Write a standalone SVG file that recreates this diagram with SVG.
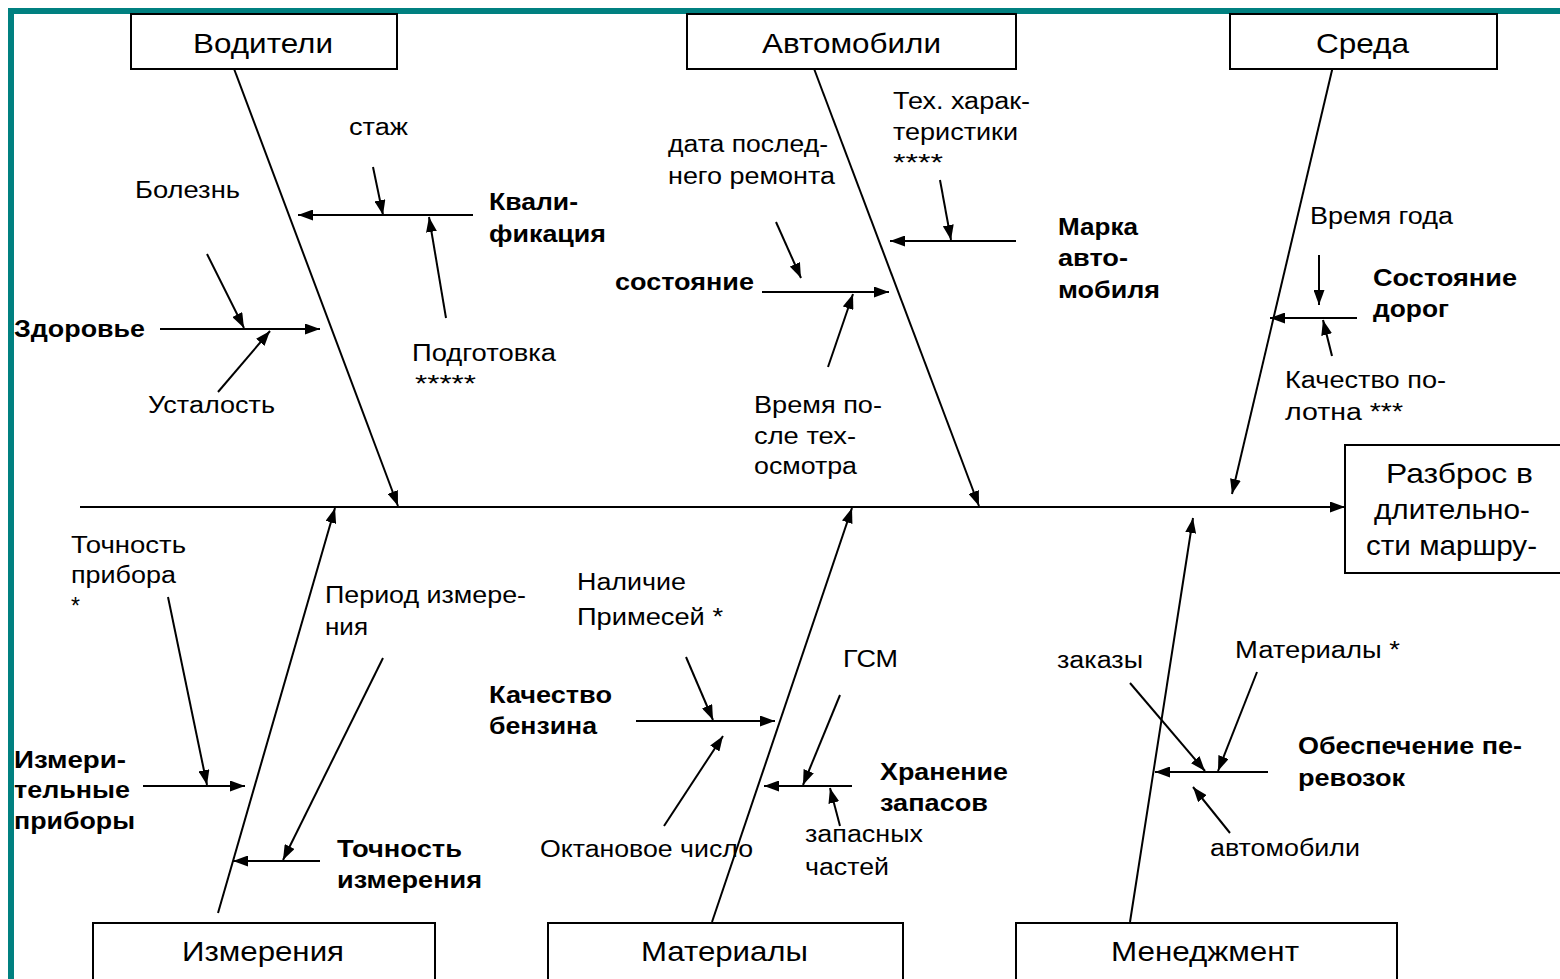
<svg xmlns="http://www.w3.org/2000/svg" width="1560" height="979" viewBox="0 0 1560 979">
<style>
  .bg{fill:#ffffff}
  .frame{fill:#008080}
  .box{fill:#ffffff;stroke:#000;stroke-width:2}
  .t{font-family:"Liberation Sans",Arial,sans-serif;font-size:23px;fill:#000}
  .b{font-family:"Liberation Sans",Arial,sans-serif;font-size:23px;font-weight:bold;fill:#000}
  .h{font-family:"Liberation Sans",Arial,sans-serif;font-size:28px;fill:#000}
  .ln{stroke:#000;stroke-width:2;fill:none}
  .ar{stroke:#000;stroke-width:2;fill:none;marker-end:url(#ah)}
</style>
<defs>
  <marker id="ah" viewBox="0 0 15 11" refX="15" refY="5.5" markerWidth="15" markerHeight="11" orient="auto" markerUnits="userSpaceOnUse">
    <path d="M0,0 L15,5.5 L0,11 z" fill="#000"/>
  </marker>
</defs>
<rect class="bg" x="0" y="0" width="1560" height="979"/>
<rect class="frame" x="8" y="8" width="1552" height="6"/>
<rect class="frame" x="8" y="8" width="6" height="971"/>

<g id="connectors">
  <line class="ar" x1="80" y1="507" x2="1345" y2="507"/>
  <line class="ar" x1="233" y1="66" x2="398" y2="506"/>
  <line class="ar" x1="813" y1="66" x2="979" y2="506"/>
  <line class="ar" x1="1333" y1="66" x2="1232" y2="494"/>
  <line class="ar" x1="218" y1="913" x2="335" y2="508"/>
  <line class="ar" x1="712" y1="922" x2="852" y2="508"/>
  <line class="ar" x1="1130" y1="922" x2="1193" y2="518"/>

  <line class="ar" x1="473" y1="215" x2="298" y2="215"/>
  <line class="ar" x1="373" y1="167" x2="383" y2="215"/>
  <line class="ar" x1="446" y1="318" x2="429" y2="217"/>

  <line class="ar" x1="160" y1="329" x2="320" y2="329"/>
  <line class="ar" x1="207" y1="254" x2="244" y2="328"/>
  <line class="ar" x1="218" y1="392" x2="270" y2="331"/>

  <line class="ar" x1="762" y1="292" x2="889" y2="292"/>
  <line class="ar" x1="776" y1="222" x2="801" y2="278"/>
  <line class="ar" x1="828" y1="367" x2="853" y2="294"/>

  <line class="ar" x1="1016" y1="241" x2="890" y2="241"/>
  <line class="ar" x1="940" y1="180" x2="951" y2="240"/>

  <line class="ar" x1="1357" y1="318" x2="1270" y2="318"/>
  <line class="ar" x1="1319" y1="255" x2="1319" y2="305"/>
  <line class="ar" x1="1332" y1="356" x2="1323" y2="320"/>

  <line class="ar" x1="143" y1="786" x2="245" y2="786"/>
  <line class="ar" x1="168" y1="597" x2="207" y2="785"/>

  <line class="ar" x1="320" y1="861" x2="233" y2="861"/>
  <line class="ar" x1="383" y1="658" x2="283" y2="860"/>

  <line class="ar" x1="636" y1="721" x2="775" y2="721"/>
  <line class="ar" x1="686" y1="657" x2="713" y2="720"/>
  <line class="ar" x1="664" y1="826" x2="723" y2="736"/>

  <line class="ar" x1="852" y1="786" x2="764" y2="786"/>
  <line class="ar" x1="840" y1="695" x2="803" y2="785"/>
  <line class="ar" x1="840" y1="826" x2="830" y2="788"/>

  <line class="ar" x1="1268" y1="772" x2="1155" y2="772"/>
  <line class="ar" x1="1130" y1="683" x2="1205" y2="771"/>
  <line class="ar" x1="1257" y1="672" x2="1218" y2="771"/>
  <line class="ar" x1="1230" y1="833" x2="1193" y2="787"/>
</g>

<g id="node-drivers">
  <rect class="box" x="131" y="14" width="266" height="55"/>
  <text class="h" x="193" y="53" textLength="140" lengthAdjust="spacingAndGlyphs">Водители</text>
</g>
<g id="node-cars">
  <rect class="box" x="687" y="14" width="329" height="55"/>
  <text class="h" x="762" y="53" textLength="179" lengthAdjust="spacingAndGlyphs">Автомобили</text>
</g>
<g id="node-env">
  <rect class="box" x="1230" y="14" width="267" height="55"/>
  <text class="h" x="1316" y="53" textLength="93" lengthAdjust="spacingAndGlyphs">Среда</text>
</g>
<g id="node-measure">
  <rect class="box" x="93" y="923" width="342" height="70"/>
  <text class="h" x="182" y="961" textLength="162" lengthAdjust="spacingAndGlyphs">Измерения</text>
</g>
<g id="node-materials">
  <rect class="box" x="548" y="923" width="355" height="70"/>
  <text class="h" x="641" y="961" textLength="167" lengthAdjust="spacingAndGlyphs">Материалы</text>
</g>
<g id="node-management">
  <rect class="box" x="1016" y="923" width="381" height="70"/>
  <text class="h" x="1111" y="961" textLength="188" lengthAdjust="spacingAndGlyphs">Менеджмент</text>
</g>
<g id="node-effect">
  <rect class="box" x="1345" y="445" width="230" height="128"/>
  <text class="h" x="1386" y="483" textLength="147" lengthAdjust="spacingAndGlyphs">Разброс в</text>
  <text class="h" x="1374" y="519" textLength="156" lengthAdjust="spacingAndGlyphs">длительно-</text>
  <text class="h" x="1366" y="555" textLength="171" lengthAdjust="spacingAndGlyphs">сти маршру-</text>
</g>

<g id="node-qualification">
  <text class="b" x="489" y="210" textLength="89" lengthAdjust="spacingAndGlyphs">Квали-</text>
  <text class="b" x="489" y="242" textLength="117" lengthAdjust="spacingAndGlyphs">фикация</text>
</g>
<g id="node-experience"><text class="t" x="349" y="135" textLength="59" lengthAdjust="spacingAndGlyphs">стаж</text></g>
<g id="node-training">
  <text class="t" x="412" y="361" textLength="144" lengthAdjust="spacingAndGlyphs">Подготовка</text>
  <text class="t" x="415" y="392" textLength="61" lengthAdjust="spacingAndGlyphs">*****</text>
</g>
<g id="node-health"><text class="b" x="14" y="337" textLength="131" lengthAdjust="spacingAndGlyphs">Здоровье</text></g>
<g id="node-illness"><text class="t" x="135" y="198" textLength="105" lengthAdjust="spacingAndGlyphs">Болезнь</text></g>
<g id="node-fatigue"><text class="t" x="148" y="413" textLength="127" lengthAdjust="spacingAndGlyphs">Усталость</text></g>

<g id="node-condition"><text class="b" x="615" y="290" textLength="139" lengthAdjust="spacingAndGlyphs">состояние</text></g>
<g id="node-repair-date">
  <text class="t" x="668" y="152" textLength="160" lengthAdjust="spacingAndGlyphs">дата послед-</text>
  <text class="t" x="668" y="184" textLength="167" lengthAdjust="spacingAndGlyphs">него ремонта</text>
</g>
<g id="node-inspection">
  <text class="t" x="754" y="413" textLength="128" lengthAdjust="spacingAndGlyphs">Время по-</text>
  <text class="t" x="754" y="444" textLength="102" lengthAdjust="spacingAndGlyphs">сле тех-</text>
  <text class="t" x="754" y="474" textLength="103" lengthAdjust="spacingAndGlyphs">осмотра</text>
</g>
<g id="node-brand">
  <text class="b" x="1058" y="235" textLength="80" lengthAdjust="spacingAndGlyphs">Марка</text>
  <text class="b" x="1058" y="266" textLength="70" lengthAdjust="spacingAndGlyphs">авто-</text>
  <text class="b" x="1058" y="298" textLength="102" lengthAdjust="spacingAndGlyphs">мобиля</text>
</g>
<g id="node-specs">
  <text class="t" x="893" y="109" textLength="137" lengthAdjust="spacingAndGlyphs">Тех. харак-</text>
  <text class="t" x="893" y="140" textLength="125" lengthAdjust="spacingAndGlyphs">теристики</text>
  <text class="t" x="893" y="171" textLength="50" lengthAdjust="spacingAndGlyphs">****</text>
</g>

<g id="node-roads">
  <text class="b" x="1373" y="286" textLength="144" lengthAdjust="spacingAndGlyphs">Состояние</text>
  <text class="b" x="1373" y="317" textLength="76" lengthAdjust="spacingAndGlyphs">дорог</text>
</g>
<g id="node-season"><text class="t" x="1310" y="224" textLength="143" lengthAdjust="spacingAndGlyphs">Время года</text></g>
<g id="node-surface">
  <text class="t" x="1285" y="388" textLength="161" lengthAdjust="spacingAndGlyphs">Качество по-</text>
  <text class="t" x="1285" y="420" textLength="118" lengthAdjust="spacingAndGlyphs">лотна ***</text>
</g>

<g id="node-instruments">
  <text class="b" x="14" y="768" textLength="112" lengthAdjust="spacingAndGlyphs">Измери-</text>
  <text class="b" x="14" y="798" textLength="116" lengthAdjust="spacingAndGlyphs">тельные</text>
  <text class="b" x="14" y="829" textLength="121" lengthAdjust="spacingAndGlyphs">приборы</text>
</g>
<g id="node-instrument-accuracy">
  <text class="t" x="71" y="553" textLength="115" lengthAdjust="spacingAndGlyphs">Точность</text>
  <text class="t" x="71" y="583" textLength="105" lengthAdjust="spacingAndGlyphs">прибора</text>
  <text class="t" x="71" y="614">*</text>
</g>
<g id="node-measure-accuracy">
  <text class="b" x="337" y="857" textLength="125" lengthAdjust="spacingAndGlyphs">Точность</text>
  <text class="b" x="337" y="888" textLength="145" lengthAdjust="spacingAndGlyphs">измерения</text>
</g>
<g id="node-period">
  <text class="t" x="325" y="603" textLength="201" lengthAdjust="spacingAndGlyphs">Период измере-</text>
  <text class="t" x="325" y="635" textLength="43" lengthAdjust="spacingAndGlyphs">ния</text>
</g>

<g id="node-fuel-quality">
  <text class="b" x="489" y="703" textLength="123" lengthAdjust="spacingAndGlyphs">Качество</text>
  <text class="b" x="489" y="734" textLength="108" lengthAdjust="spacingAndGlyphs">бензина</text>
</g>
<g id="node-impurities">
  <text class="t" x="577" y="590" textLength="109" lengthAdjust="spacingAndGlyphs">Наличие</text>
  <text class="t" x="577" y="625" textLength="146" lengthAdjust="spacingAndGlyphs">Примесей *</text>
</g>
<g id="node-octane"><text class="t" x="540" y="857" textLength="213" lengthAdjust="spacingAndGlyphs">Октановое число</text></g>
<g id="node-storage">
  <text class="b" x="880" y="780" textLength="128" lengthAdjust="spacingAndGlyphs">Хранение</text>
  <text class="b" x="880" y="811" textLength="108" lengthAdjust="spacingAndGlyphs">запасов</text>
</g>
<g id="node-gsm"><text class="t" x="843" y="667" textLength="55" lengthAdjust="spacingAndGlyphs">ГСМ</text></g>
<g id="node-spare-parts">
  <text class="t" x="805" y="842" textLength="118" lengthAdjust="spacingAndGlyphs">запасных</text>
  <text class="t" x="805" y="875" textLength="84" lengthAdjust="spacingAndGlyphs">частей</text>
</g>

<g id="node-transport-supply">
  <text class="b" x="1298" y="754" textLength="224" lengthAdjust="spacingAndGlyphs">Обеспечение пе-</text>
  <text class="b" x="1298" y="786" textLength="107" lengthAdjust="spacingAndGlyphs">ревозок</text>
</g>
<g id="node-orders"><text class="t" x="1057" y="668" textLength="86" lengthAdjust="spacingAndGlyphs">заказы</text></g>
<g id="node-materials-star"><text class="t" x="1235" y="658" textLength="165" lengthAdjust="spacingAndGlyphs">Материалы *</text></g>
<g id="node-vehicles"><text class="t" x="1210" y="856" textLength="150" lengthAdjust="spacingAndGlyphs">автомобили</text></g>
</svg>
